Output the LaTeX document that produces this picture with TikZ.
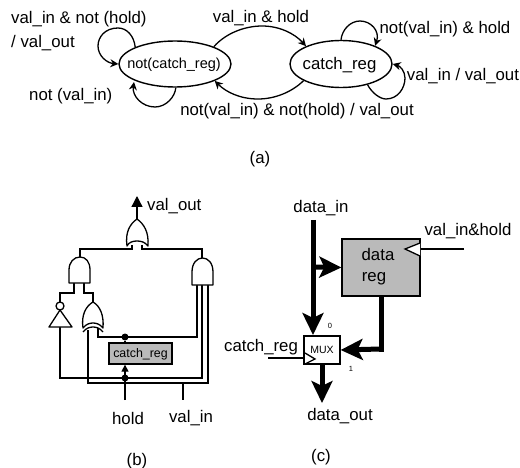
\documentclass[tikz,border=0pt]{standalone}
\usepackage{fontspec}
\setmainfont{Liberation Sans}
\usetikzlibrary{arrows.meta,shapes.geometric}
\newcommand{\fs}[1]{\fontsize{#1}{#1}\selectfont}
\begin{document}
\begin{tikzpicture}[x=1pt,y=-1pt,
  plainlab/.style={inner sep=0pt,font=\fs{16.8}},
  lab/.style={inner sep=0pt,font=\fs{16.8},yshift=-1.5pt},
  captxt/.style={inner sep=0pt,font=\fs{16.8},yshift=-1.5pt},
  small/.style={inner sep=0pt,font=\fs{7.5}},
  statebox/.style={draw,ellipse,line width=1.4pt,inner sep=0pt},
  arc/.style={line width=1.3pt,-{Stealth[length=8pt,width=8pt]}},
  wire/.style={line width=1.3pt},
  gate/.style={draw,line width=1.3pt,fill=white,line join=round},
  dotn/.style={circle,fill=black,inner sep=0pt,minimum size=7pt},
  bus/.style={line width=5pt},
  busarrow/.style={line width=5pt,-{Stealth[length=22pt,width=21pt,inset=5pt]}},
  regbox/.style={draw,fill=black!27,line width=1.3pt,inner sep=0pt},
  clk/.style={draw,line width=1.3pt,fill=white},
]
\useasboundingbox (0,0) rectangle (520,468);

% ---------- (a) state diagram
\node[statebox,minimum width=112pt,minimum height=46pt] (nc) at (175,64) {};
\node[inner sep=0pt,font=\fs{14.5},yshift=-1pt] (nct) at (174,63.5) {not(catch\_reg)};
\node[statebox,minimum width=102pt,minimum height=47pt] (cr) at (341,64) {};
\node[lab] (crt) at (339.5,63.5) {catch\_reg};

\draw[arc] (nc.157) .. controls (134,36) and (127,28) .. (118,28) .. controls (105,28) and (98,37) .. (98,46) .. controls (98,56) and (107,63) .. (nc.180);
\draw[arc] (nc.272) .. controls (175,97) and (166,107) .. (155,107) .. controls (142,107) and (132,96) .. (134,82);
\draw[arc] (nc.24) .. controls (226,33) and (245,26) .. (262,26) .. controls (280,26) and (295,34) .. (cr.153);
\draw[arc] (cr.204) .. controls (292,92) and (275,99) .. (258,99) .. controls (240,99) and (226,92) .. (nc.-23);
\draw[arc] (cr.90) .. controls (342,30) and (350,21) .. (360,21) .. controls (371,21) and (380,31) .. (cr.28);
\draw[arc] (cr.-38) .. controls (372,93) and (380,99) .. (386,99) .. controls (398,99) and (405,88) .. (405,78) .. controls (405,71) and (400,66) .. (cr.east);

\node[lab,anchor=west] (l1) at (11,18) {val\_in \& not (hold)};
\node[lab,anchor=west] (l2) at (11,42) {/ val\_out};
\node[lab,anchor=west] (l3) at (29,95) {not (val\_in)};
\node[lab] (l4) at (261,17) {val\_in \& hold};
\node[lab] (l5) at (445,28) {not(val\_in) \& hold};
\node[lab] (l6) at (463,75) {val\_in / val\_out};
\node[lab] (l7) at (297,110) {not(val\_in) \& not(hold) / val\_out};
\node[captxt] (capa) at (260,158) {(a)};

% ---------- (b) gate netlist
\coordinate (orout) at (137,219);
\coordinate (oia) at (132,245);
\coordinate (oib) at (142,245);
\coordinate (lnd) at (80,257);
\coordinate (rnd) at (202,258);
\coordinate (lna) at (74,283);
\coordinate (lnb) at (84,283);
\coordinate (ra) at (197,285);
\coordinate (rb) at (202,285);
\coordinate (rc) at (208,285);
\coordinate (invo) at (60,302);
\coordinate (invi) at (60,327);
\coordinate (xo) at (93,302);
\coordinate (xia) at (88,330);
\coordinate (xib) at (98,328);

\draw[wire,-{Stealth[length=11pt,width=11pt,inset=0pt]}] (orout) -- (137,196);
\draw[wire] (oia) -- (132,249) -| (lnd);
\draw[wire] (oib) -- (142,249) -| (rnd);
\draw[wire] (lna) -- (74,293) -| (invo);
\draw[wire] (lnb) -- (84,293) -| (xo);
\draw[wire] (xia) -- (88,383) -- (208,383) -- (rc);
\draw[wire] (invi) -- (60,378) -- (202,378) -- (rb);
\draw[wire] (xib) -- (98,337) -- (197,337) -- (ra);

\node[dotn] (d1) at (125,337) {};
\node[regbox,minimum width=63pt,minimum height=21pt] (creg) at (140.5,353.5) {};
\node[inner sep=0pt,font=\fs{12.4},yshift=-1pt] (cregt) at (140.5,353.5) {catch\_reg};
\node[dotn] (d2) at (125,378) {};
\coordinate (holdend) at (125,400);
\coordinate (vjoin) at (183,383);
\coordinate (vend) at (183,400);
\draw[wire] (d1) -- (d1 |- creg.north);
\draw[wire,-{Stealth[length=7pt,width=7pt,inset=0pt]}] (holdend) -- (d1 |- creg.south);
\draw[wire] (vjoin) -- (vend);

% OR gate
\draw[gate] (127,246) .. controls (125,232) and (130,224) .. (137,219) .. controls (144,224) and (149,232) .. (148,246) .. controls (145,242) and (141,241) .. (137,241) .. controls (133,241) and (129,242) .. (127,246) -- cycle;
% AND gates
\draw[gate] (69,283) -- (69,270) .. controls (69,262) and (74,257) .. (80,257) .. controls (86,257) and (90,262) .. (90,270) -- (90,283) -- cycle;
\draw[gate] (192,285) -- (192,272) .. controls (192,263) and (197,258) .. (202.5,258) .. controls (208,258) and (213,263) .. (213,272) -- (213,285) -- cycle;
% inverter
\node[gate,circle,inner sep=0pt,minimum size=8pt] (bub) at (60,306) {};
\draw[gate] (60,310) -- (72,327) -- (49,327) -- cycle;
% XOR gate
\draw[gate] (83,328) .. controls (81,315) and (86,306) .. (93,302) .. controls (100,306) and (104,315) .. (103,328) .. controls (100,324) and (96,323) .. (93,323) .. controls (90,323) and (86,324) .. (83,328) -- cycle;
\draw[line width=1.3pt] (83,332) .. controls (86,328) and (90,327) .. (93,327) .. controls (96,327) and (100,328) .. (103,332);

\node[lab,anchor=west] (vo) at (147,205) {val\_out};
\node[plainlab] (hl) at (128,418) {hold};
\node[lab] (vl) at (191,417) {val\_in};
\node[captxt] (capb) at (137,460) {(b)};

% ---------- (c) datapath
\node[lab] (din) at (321,207) {data\_in};
\coordinate (dtop) at (313,220);
\node[regbox,minimum width=78pt,minimum height=57pt] (dreg) at (381,267.5) {};
\node[plainlab] (dregt1) at (378,254) {data};
\node[plainlab] (dregt2) at (374,279) {reg};
\node[draw,fill=white,line width=1.3pt,inner sep=0pt,minimum width=36pt,minimum height=28pt] (mux) at (322,350) {};
\node[inner sep=0pt,font=\fs{10.5}] (muxt) at (322,350) {MUX};
\coordinate (dj) at (313,267);
\coordinate (dregout) at (381,296);
\coordinate (dcorner) at (381,349);
\coordinate (dout) at (322,403);
\draw[busarrow] (dtop) -- (313,335);
\draw[busarrow] (dj) -- (dreg.west);
\draw[bus] (dregout) -- (381,351.5);
\draw[busarrow] (dcorner) -- (mux.east);
\draw[busarrow] (mux.south) -- (dout);

\coordinate (vh) at (464,249);
\coordinate (cr2) at (268,358);
\draw[line width=1.3pt] (vh) -- (420,249);
\draw[clk] (420,243) -- (405,249) -- (420,256);
\draw[line width=1.3pt] (cr2) -- (304,358);
\draw[clk,fill=white] (305,353) -- (315,359) -- (305,364);

\node[lab] (vh2) at (468,230) {val\_in\&hold};
\node[lab] (crl) at (261,346) {catch\_reg};
\node[lab] (dol) at (340,415) {data\_out};
\node[small] (zero) at (330,326) {0};
\node[small] (one) at (351,369) {1};
\node[captxt] (capc) at (321,456) {(c)};
\end{tikzpicture}
\end{document}
